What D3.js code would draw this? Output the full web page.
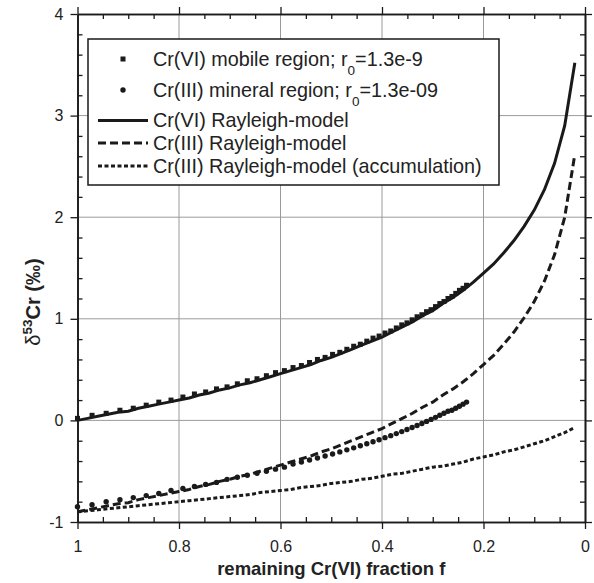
<!DOCTYPE html>
<html><head><meta charset="utf-8">
<script src="https://cdn.jsdelivr.net/npm/d3@7"></script>
<style>
body{margin:0;background:#fff;}
svg{display:block;font-family:"Liberation Sans",Arial,sans-serif;}
</style></head>
<body><svg id="chart" width="594" height="583"></svg>
<script>
// ---- data ----
const fLine = [1,0.98,0.96,0.94,0.92,0.90,0.88,0.86,0.84,0.82,0.80,0.78,0.76,0.74,0.72,0.70,0.68,0.66,0.64,0.62,0.60,0.58,0.56,0.54,0.52,0.50,0.48,0.46,0.44,0.42,0.40,0.38,0.36,0.34,0.32,0.30,0.28,0.26,0.24,0.22,0.20,0.18,0.16,0.14,0.12,0.10,0.08,0.06,0.04,0.02];
const cr6Rayleigh = [0.00,0.02,0.04,0.06,0.08,0.09,0.12,0.14,0.16,0.18,0.20,0.22,0.25,0.27,0.30,0.32,0.35,0.37,0.40,0.43,0.46,0.49,0.52,0.55,0.59,0.62,0.66,0.70,0.74,0.78,0.82,0.87,0.92,0.97,1.03,1.08,1.15,1.21,1.28,1.36,1.45,1.54,1.65,1.77,1.91,2.07,2.27,2.53,2.90,3.52];
const cr3Rayleigh = [-0.90,-0.88,-0.86,-0.84,-0.82,-0.81,-0.78,-0.76,-0.74,-0.72,-0.70,-0.68,-0.65,-0.63,-0.60,-0.58,-0.55,-0.53,-0.50,-0.47,-0.44,-0.41,-0.38,-0.35,-0.31,-0.28,-0.24,-0.20,-0.16,-0.12,-0.08,-0.03,0.02,0.07,0.13,0.18,0.25,0.31,0.38,0.46,0.55,0.64,0.75,0.87,1.01,1.17,1.37,1.63,2.00,2.62];
const cr3Accum = [-0.90,-0.89,-0.88,-0.87,-0.86,-0.85,-0.84,-0.83,-0.82,-0.81,-0.80,-0.79,-0.78,-0.77,-0.76,-0.75,-0.74,-0.73,-0.71,-0.70,-0.69,-0.68,-0.66,-0.65,-0.64,-0.62,-0.61,-0.60,-0.58,-0.57,-0.55,-0.53,-0.52,-0.50,-0.48,-0.46,-0.45,-0.43,-0.41,-0.38,-0.36,-0.34,-0.31,-0.29,-0.26,-0.23,-0.20,-0.16,-0.12,-0.07];

const fMarkers = [1.0000,0.9713,0.9435,0.9164,0.8901,0.8646,0.8398,0.8157,0.7923,0.7696,0.7475,0.7261,0.7053,0.6850,0.6654,0.6463,0.6278,0.6098,0.5923,0.5753,0.5588,0.5428,0.5272,0.5121,0.4974,0.4831,0.4693,0.4558,0.4427,0.4300,0.4177,0.4057,0.3941,0.3828,0.3718,0.3611,0.3508,0.3407,0.3309,0.3214,0.3122,0.3033,0.2946,0.2861,0.2779,0.2700,0.2622,0.2547,0.2474,0.2403,0.2334];
const cr6Mobile = [0.02,0.05,0.07,0.10,0.12,0.15,0.18,0.20,0.23,0.26,0.28,0.31,0.33,0.36,0.39,0.41,0.44,0.47,0.49,0.52,0.54,0.57,0.60,0.62,0.65,0.67,0.70,0.73,0.75,0.78,0.81,0.83,0.86,0.88,0.91,0.94,0.96,0.99,1.02,1.04,1.07,1.09,1.12,1.15,1.17,1.20,1.22,1.25,1.28,1.30,1.33];
const cr3Mineral = [-0.85,-0.83,-0.80,-0.78,-0.76,-0.74,-0.72,-0.69,-0.67,-0.65,-0.63,-0.61,-0.58,-0.56,-0.54,-0.52,-0.50,-0.48,-0.46,-0.43,-0.41,-0.39,-0.37,-0.35,-0.33,-0.31,-0.29,-0.27,-0.25,-0.23,-0.21,-0.19,-0.17,-0.15,-0.13,-0.11,-0.09,-0.07,-0.05,-0.03,-0.01,0.01,0.03,0.05,0.07,0.09,0.10,0.12,0.14,0.16,0.18];

const xTicks = [1,0.8,0.6,0.4,0.2,0];
const xTickLabels = ["1","0.8","0.6","0.4","0.2","0"];
const yTicks = [-1,0,1,2,3,4];
const yTickLabels = ["-1","0","1","2","3","4"];
const xMinor = [0.95,0.9,0.85,0.75,0.7,0.65,0.55,0.5,0.45,0.35,0.3,0.25,0.15,0.1,0.05];
const yMinor = [-0.8,-0.6,-0.4,-0.2,0.2,0.4,0.6,0.8,1.2,1.4,1.6,1.8,2.2,2.4,2.6,2.8,3.2,3.4,3.6,3.8];

const legendLabels = ["Cr(VI) mobile region; r","Cr(III) mineral region; r","Cr(VI) Rayleigh-model","Cr(III) Rayleigh-model","Cr(III) Rayleigh-model (accumulation)"];
const legendSuffix = ["=1.3e-9","=1.3e-09"];

// ---- drawing ----
const svg = d3.select("#chart");
const L = 77.5, R = 585, T = 14, B = 522;
const x = d3.scaleLinear().domain([1,0]).range([L,R]);
const y = d3.scaleLinear().domain([-1,4]).range([B,T]);
const ink = "#1a1a1a";

// grid
const grid = svg.append("g");
grid.selectAll("line.gx").data(xTicks.slice(1,-1)).join("line")
  .attr("x1",d=>x(d)).attr("x2",d=>x(d)).attr("y1",T).attr("y2",B)
  .attr("stroke","#9a9a9a").attr("stroke-width",1);
grid.selectAll("line.gy").data(yTicks.slice(1,-1)).join("line")
  .attr("y1",d=>y(d)).attr("y2",d=>y(d)).attr("x1",L).attr("x2",R)
  .attr("stroke","#9a9a9a").attr("stroke-width",1);

function styleAxis(g){
  g.selectAll("path.domain").attr("stroke",ink).attr("stroke-width",1.6);
  g.selectAll(".tick line").attr("stroke",ink).attr("stroke-width",1.3);
  g.selectAll("text").attr("fill","#222").style("font-size","16px").style("font-family","'Liberation Sans',Arial,sans-serif");
}
const fmtX = d => xTickLabels[xTicks.indexOf(d)];
const fmtY = d => yTickLabels[yTicks.indexOf(d)];

// bottom
svg.append("g").attr("transform",`translate(0,${B})`)
  .call(d3.axisBottom(x).tickValues(xTicks).tickSize(7).tickSizeOuter(0).tickPadding(12).tickFormat(fmtX)).call(styleAxis);
svg.append("g").attr("transform",`translate(0,${B})`)
  .call(d3.axisBottom(x).tickValues(xMinor).tickSize(-5).tickSizeOuter(0).tickFormat("")).call(styleAxis);
// top
svg.append("g").attr("transform",`translate(0,${T})`)
  .call(d3.axisTop(x).tickValues(xTicks).tickSize(7).tickSizeOuter(0).tickFormat("")).call(styleAxis);
svg.append("g").attr("transform",`translate(0,${T})`)
  .call(d3.axisTop(x).tickValues(xMinor).tickSize(-5).tickSizeOuter(0).tickFormat("")).call(styleAxis);
// left
svg.append("g").attr("transform",`translate(${L},0)`)
  .call(d3.axisLeft(y).tickValues(yTicks).tickSize(7).tickSizeOuter(0).tickPadding(7).tickFormat(fmtY)).call(styleAxis);
svg.append("g").attr("transform",`translate(${L},0)`)
  .call(d3.axisLeft(y).tickValues(yMinor).tickSize(-5).tickSizeOuter(0).tickFormat("")).call(styleAxis);
// right
svg.append("g").attr("transform",`translate(${R},0)`)
  .call(d3.axisRight(y).tickValues(yTicks).tickSize(7).tickSizeOuter(0).tickFormat("")).call(styleAxis);
svg.append("g").attr("transform",`translate(${R},0)`)
  .call(d3.axisRight(y).tickValues(yMinor).tickSize(-5).tickSizeOuter(0).tickFormat("")).call(styleAxis);

// axis titles
svg.append("text").attr("x",(L+R)/2).attr("y",575).attr("text-anchor","middle")
  .attr("font-weight","bold").attr("font-size",18.5).attr("fill","#222")
  .text("remaining Cr(VI) fraction f");
const yl = svg.append("text").attr("transform","translate(40,302) rotate(-90)")
  .attr("text-anchor","middle").attr("fill","#222").attr("font-size",20);
yl.append("tspan").text("δ");
yl.append("tspan").attr("font-weight","bold").attr("font-size",13.5).attr("dy",-8).text("53");
yl.append("tspan").attr("font-weight","bold").attr("dy",8).text("Cr (‰)");

// lines
const line = d3.line().x(d=>x(d[0])).y(d=>y(d[1]));
const plot = svg.append("g");
plot.append("path").datum(fLine.map((f,i)=>[f,cr3Accum[i]])).attr("d",line)
  .attr("fill","none").attr("stroke",ink).attr("stroke-width",3).attr("stroke-dasharray","4,2.5");
plot.append("path").datum(fLine.map((f,i)=>[f,cr3Rayleigh[i]])).attr("d",line)
  .attr("fill","none").attr("stroke",ink).attr("stroke-width",3).attr("stroke-dasharray","8,4");
plot.append("path").datum(fLine.map((f,i)=>[f,cr6Rayleigh[i]])).attr("d",line)
  .attr("fill","none").attr("stroke",ink).attr("stroke-width",3);

// markers
plot.selectAll("rect.sq").data(fMarkers.map((f,i)=>[f,cr6Mobile[i]])).join("rect")
  .attr("x",d=>x(d[0])-2.5).attr("y",d=>y(d[1])-2.5).attr("width",5).attr("height",5).attr("fill",ink);
plot.selectAll("circle.ci").data(fMarkers.map((f,i)=>[f,cr3Mineral[i]])).join("circle")
  .attr("cx",d=>x(d[0])).attr("cy",d=>y(d[1])).attr("r",2.7).attr("fill",ink);

// legend
const lg = svg.append("g");
lg.append("rect").attr("x",88).attr("y",39).attr("width",411).attr("height",146)
  .attr("fill","#fff").attr("stroke",ink).attr("stroke-width",1.5);
const rowsY = [66,96.5,127,149.5,172.5];
const lx1 = 98, lx2 = 148, tx = 153;
lg.append("rect").attr("x",123-2.5).attr("y",59-2.5).attr("width",5).attr("height",5).attr("fill",ink);
lg.append("circle").attr("cx",123).attr("cy",90).attr("r",2.7).attr("fill",ink);
lg.append("line").attr("x1",lx1).attr("x2",lx2).attr("y1",120.5).attr("y2",120.5).attr("stroke",ink).attr("stroke-width",3);
lg.append("line").attr("x1",lx1).attr("x2",lx2).attr("y1",143).attr("y2",143).attr("stroke",ink).attr("stroke-width",3).attr("stroke-dasharray","8,4");
lg.append("line").attr("x1",lx1).attr("x2",lx2).attr("y1",166).attr("y2",166).attr("stroke",ink).attr("stroke-width",3).attr("stroke-dasharray","4,2.5");
legendLabels.forEach((t,i)=>{
  const tt = lg.append("text").attr("x",tx).attr("y",rowsY[i]).attr("font-size",19.8).attr("fill","#222");
  tt.append("tspan").text(t);
  if(i<2){
    tt.append("tspan").attr("font-size",13.5).attr("dy",9).text("0");
    tt.append("tspan").attr("dy",-9).text(legendSuffix[i]);
  }
});
</script></body></html>
